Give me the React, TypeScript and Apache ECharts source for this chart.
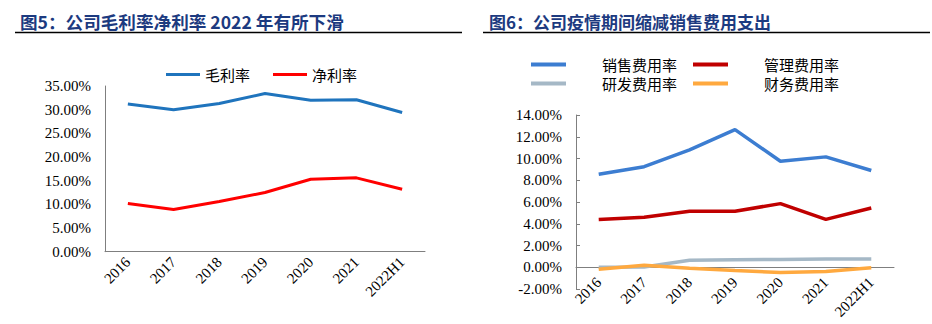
import React, { useEffect, useRef } from "react";
import * as echarts from "echarts";

const years = ["2016", "2017", "2018", "2019", "2020", "2021", "2022H1"];
// 图5 (%)
const grossMargin = [31.2, 30.0, 31.3, 33.4, 32.0, 32.1, 29.4];
const netMargin = [10.2, 8.9, 10.6, 12.5, 15.3, 15.6, 13.2];
// 图6 (%)
const salesExp = [8.55, 9.25, 10.8, 12.65, 9.75, 10.15, 8.9];
const adminExp = [4.4, 4.6, 5.15, 5.15, 5.85, 4.4, 5.45];
const rdExp = [0.0, 0.02, 0.65, 0.7, 0.72, 0.75, 0.75];
const finExp = [-0.18, 0.18, -0.1, -0.3, -0.48, -0.4, -0.05];

const title5 = "图5：公司毛利率净利率 2022 年有所下滑";
const title6 = "图6：公司疫情期间缩减销售费用支出";

const SERIF = "'Liberation Serif', 'Times New Roman', serif";
const CJK = "'Noto Sans CJK SC', sans-serif";
const AXIS_COLOR = "#7f7f7f";
const TITLE_COLOR = "#1c3a80";

const LINE_ICON_L = "path://M0,0H34V3H0Z";
const LINE_ICON_R = "path://M0,0H35V4H0Z";

const pct = (v: number) => `${v.toFixed(2)}%`;

export default function App() {
  const ref = useRef<HTMLDivElement>(null);
  useEffect(() => {
    document.body.style.margin = "0";
    const chart = echarts.init(ref.current!, null, { renderer: "svg" });
    const axisLabel = { color: "#000", fontFamily: SERIF, fontSize: 15 };
    const legendText = { fontFamily: CJK, fontSize: 15, color: "#000" };
    chart.setOption({
      animation: false,
      backgroundColor: "#fff",
      title: [
        {
          text: title5,
          left: 15,
          top: 8,
          textStyle: { fontFamily: CJK, fontSize: 17.6, fontWeight: "bold", color: TITLE_COLOR },
        },
        {
          text: title6,
          left: 484,
          top: 8,
          textStyle: { fontFamily: CJK, fontSize: 17, fontWeight: "bold", color: TITLE_COLOR },
        },
      ],
      graphic: [
        { type: "line", shape: { x1: 15, y1: 32.5, x2: 462, y2: 32.5 }, style: { stroke: "#000", lineWidth: 1.3 } },
        { type: "line", shape: { x1: 483, y1: 32.5, x2: 930, y2: 32.5 }, style: { stroke: "#000", lineWidth: 1.3 } },
      ],
      legend: [
        {
          data: [
            { name: "毛利率", icon: LINE_ICON_L },
            { name: "净利率", icon: LINE_ICON_L },
          ],
          left: 166,
          top: 67,
          padding: 0,
          itemWidth: 34,
          itemHeight: 3,
          itemGap: 23,
          textStyle: legendText,
        },
        {
          data: [
            { name: "销售费用率", icon: LINE_ICON_R },
            { name: "管理费用率", icon: LINE_ICON_R },
          ],
          left: 531,
          top: 57,
          padding: 0,
          itemWidth: 35,
          itemHeight: 4,
          itemGap: 16,
          textStyle: { ...legendText, padding: [0, 0, 0, 31] },
        },
        {
          data: [
            { name: "研发费用率", icon: LINE_ICON_R },
            { name: "财务费用率", icon: LINE_ICON_R },
          ],
          left: 531,
          top: 76,
          padding: 0,
          itemWidth: 35,
          itemHeight: 4,
          itemGap: 16,
          textStyle: { ...legendText, padding: [0, 0, 0, 31] },
        },
      ],
      grid: [
        { left: 105, top: 86, width: 320, height: 165.7, outerBoundsMode: "none", containLabel: false },
        { left: 576, top: 115, width: 318, height: 174, outerBoundsMode: "none", containLabel: false },
      ],
      xAxis: [
        {
          type: "category",
          gridIndex: 0,
          data: years,
          boundaryGap: true,
          axisLine: { lineStyle: { color: AXIS_COLOR, width: 1 } },
          axisTick: { inside: true, length: 4, lineStyle: { color: AXIS_COLOR } },
          axisLabel: { ...axisLabel, rotate: 45, margin: 8, interval: 0 },
          splitLine: { show: false },
        },
        {
          type: "category",
          gridIndex: 1,
          data: years,
          boundaryGap: true,
          axisLine: { onZero: true, lineStyle: { color: AXIS_COLOR, width: 1 } },
          axisTick: { inside: true, length: 4, lineStyle: { color: AXIS_COLOR } },
          axisLabel: { ...axisLabel, rotate: 45, margin: -9, interval: 0 },
          splitLine: { show: false },
        },
      ],
      yAxis: [
        {
          type: "value",
          gridIndex: 0,
          min: 0,
          max: 35,
          interval: 5,
          axisLine: { show: true, lineStyle: { color: AXIS_COLOR, width: 1 } },
          axisTick: { show: false },
          splitLine: { show: false },
          axisLabel: { ...axisLabel, margin: 14, formatter: pct },
        },
        {
          type: "value",
          gridIndex: 1,
          min: -2,
          max: 14,
          interval: 2,
          axisLine: { show: true, onZero: false, lineStyle: { color: AXIS_COLOR, width: 1 } },
          axisTick: { show: true, inside: true, length: 4, lineStyle: { color: AXIS_COLOR } },
          splitLine: { show: false },
          axisLabel: { ...axisLabel, margin: 14, formatter: pct },
        },
      ],
      series: [
        {
          name: "毛利率",
          type: "line",
          xAxisIndex: 0,
          yAxisIndex: 0,
          data: grossMargin,
          symbol: "none",
          lineStyle: { color: "#1f74bd", width: 3 },
          itemStyle: { color: "#1f74bd" },
        },
        {
          name: "净利率",
          type: "line",
          xAxisIndex: 0,
          yAxisIndex: 0,
          data: netMargin,
          symbol: "none",
          lineStyle: { color: "#ff0000", width: 3 },
          itemStyle: { color: "#ff0000" },
        },
        {
          name: "销售费用率",
          type: "line",
          xAxisIndex: 1,
          yAxisIndex: 1,
          data: salesExp,
          symbol: "none",
          lineStyle: { color: "#3c7dd1", width: 3.5 },
          itemStyle: { color: "#3c7dd1" },
        },
        {
          name: "管理费用率",
          type: "line",
          xAxisIndex: 1,
          yAxisIndex: 1,
          data: adminExp,
          symbol: "none",
          lineStyle: { color: "#c00000", width: 3.5 },
          itemStyle: { color: "#c00000" },
        },
        {
          name: "研发费用率",
          type: "line",
          xAxisIndex: 1,
          yAxisIndex: 1,
          data: rdExp,
          symbol: "none",
          lineStyle: { color: "#a5b8c6", width: 3.5 },
          itemStyle: { color: "#a5b8c6" },
        },
        {
          name: "财务费用率",
          type: "line",
          xAxisIndex: 1,
          yAxisIndex: 1,
          data: finExp,
          symbol: "none",
          lineStyle: { color: "#ffa93f", width: 3.5 },
          itemStyle: { color: "#ffa93f" },
        },
      ],
    });
    return () => chart.dispose();
  }, []);
  return <div ref={ref} style={{ width: 932, height: 324 }} />;
}
